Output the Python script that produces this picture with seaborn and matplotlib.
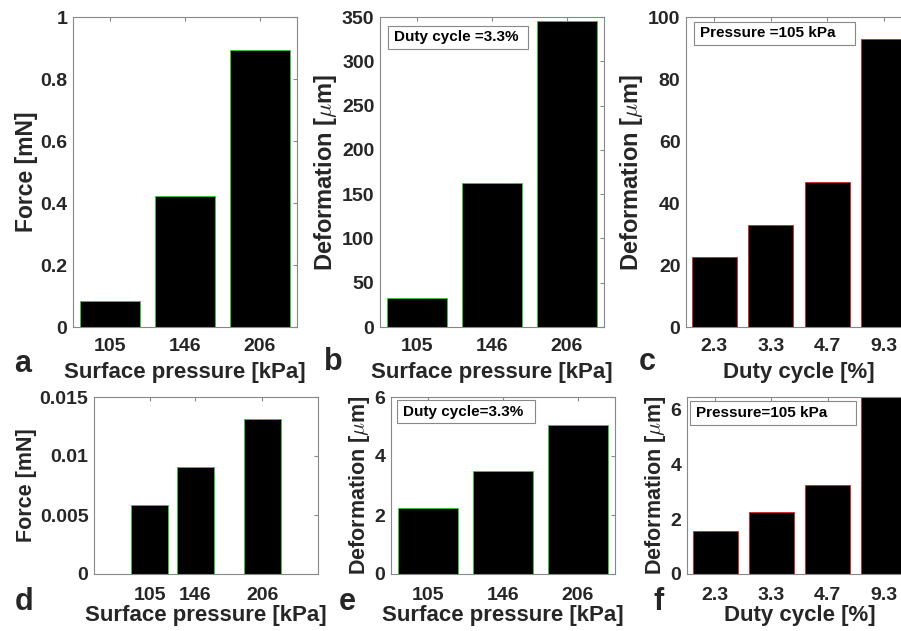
import pandas as pd
import seaborn as sns
import matplotlib.pyplot as plt
from matplotlib.patches import Rectangle

# Values
pressure_labels = ["105", "146", "206"]
pressure_values = [105, 146, 206]
duty_labels = ["2.3", "3.3", "4.7", "9.3"]

force_a = [0.084, 0.423, 0.895]
deform_b = [33, 163, 346]
deform_c = [22.7, 32.8, 46.9, 92.8]
force_d = [0.00585, 0.00904, 0.0131]
deform_e = [2.25, 3.49, 5.05]
deform_f = [1.57, 2.27, 3.25, 6.6]

sns.set_style("white")
plt.rcParams["font.family"] = ["Liberation Sans", "DejaVu Sans"]
plt.rcParams["font.weight"] = "bold"
plt.rcParams["mathtext.fontset"] = "cm"

GRAY = "#888888"
TXT = "#262626"
W, H = 901, 631

fig = plt.figure(figsize=(9.01, 6.31), dpi=100)


def add_ax(left, top, right, bottom):
    return fig.add_axes([left / W, 1 - bottom / H, (right - left) / W, (bottom - top) / H])


def style(ax, yticks, ylim, xlabel, ylabel, ysize, xpad=8, lpad=5):
    ax.set_ylim(*ylim)
    ax.set_yticks(yticks)
    ax.yaxis.set_major_formatter(lambda v, _: f"{v:g}")
    ax.tick_params(direction="in", length=3, top=True, right=True, color=GRAY,
                   labelsize=14, labelcolor=TXT)
    ax.tick_params(axis="x", pad=xpad)
    ax.tick_params(axis="y", pad=4)
    for s in ax.spines.values():
        s.set_visible(True)
        s.set_color(GRAY)
        s.set_linewidth(0.8)
    ax.set_xlabel(xlabel, fontsize=16, fontweight="bold", color=TXT, labelpad=lpad)
    ax.set_ylabel(ylabel, fontsize=ysize, fontweight="bold", color=TXT, labelpad=2)


def note(ax, text, x0, y0, w, h):
    ax.add_patch(Rectangle((x0, y0), w, h, transform=ax.transAxes, facecolor="white",
                           edgecolor=GRAY, linewidth=0.8, zorder=5))
    ax.text(x0 + 0.028, y0 + h / 2, text, transform=ax.transAxes, fontsize=11,
            fontweight="bold", va="center", ha="left", color="black", zorder=6)


def bars(ax, x, y, edge, **kw):
    sns.barplot(x=x, y=y, color="black", saturation=1, width=0.8, errorbar=None,
                edgecolor=edge, linewidth=0.6, ax=ax, **kw)


deform_lbl = r"Deformation [$\mu$m]"

# a
ax = add_ax(73, 17, 297, 327)
bars(ax, pressure_labels, force_a, "#33cc33")
style(ax, [0, 0.2, 0.4, 0.6, 0.8, 1], (0, 1), "Surface pressure [kPa]", "Force [mN]", 16.5)

# b
ax = add_ax(380, 17, 604, 327)
bars(ax, pressure_labels, deform_b, "#33cc33")
style(ax, [0, 50, 100, 150, 200, 250, 300, 350], (0, 350), "Surface pressure [kPa]", deform_lbl, 17)
note(ax, "Duty cycle =3.3%", 0.036, 0.897, 0.625, 0.074)

# c
ax = add_ax(686, 17, 912, 327)
bars(ax, duty_labels, deform_c, "#dd2222")
style(ax, [0, 20, 40, 60, 80, 100], (0, 100), "Duty cycle [%]", deform_lbl, 17)
note(ax, "Pressure =105 kPa", 0.035, 0.910, 0.712, 0.074)

# d
ax = add_ax(94, 397, 318, 574)
bars(ax, pressure_values, force_d, "#33cc33", native_scale=True)
ax.set_xlim(55, 256)
ax.set_xticks(pressure_values)
style(ax, [0, 0.005, 0.01, 0.015], (0, 0.015), "Surface pressure [kPa]", "Force [mN]", 15.5,
      xpad=9, lpad=1)

# e
ax = add_ax(391, 397, 615, 574)
bars(ax, pressure_labels, deform_e, "#33cc33")
style(ax, [0, 2, 4, 6], (0, 6), "Surface pressure [kPa]", deform_lbl, 15.5, xpad=9, lpad=1)
note(ax, "Duty cycle=3.3%", 0.027, 0.851, 0.616, 0.132)

# f
ax = add_ax(687, 397, 912, 574)
bars(ax, duty_labels, deform_f, "#dd2222")
style(ax, [0, 2, 4, 6], (0, 6.44), "Duty cycle [%]", deform_lbl, 15.5, xpad=9, lpad=1)
note(ax, "Pressure=105 kPa", 0.013, 0.842, 0.738, 0.135)

# panel letters
for letter, x, y in [("a", 14, 372), ("b", 324, 370), ("c", 639, 370),
                     ("d", 15, 610), ("e", 339, 610), ("f", 654, 610)]:
    fig.text(x / W, 1 - y / H, letter, fontsize=22, fontweight="bold", va="baseline", ha="left")

fig.savefig("out.png", dpi=100)
